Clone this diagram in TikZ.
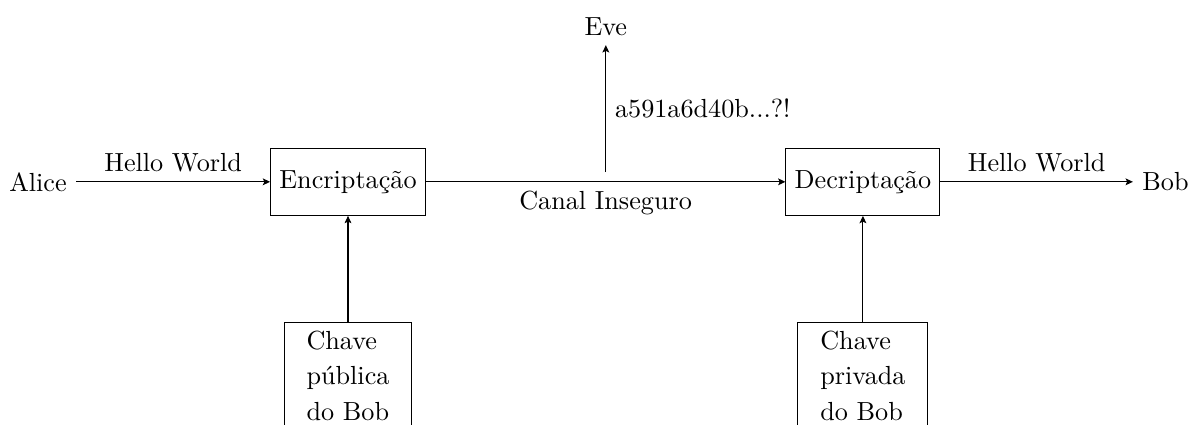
\documentclass[tikz,border=0pt]{standalone}
\usepackage{tikz}
\usetikzlibrary{arrows.meta, calc, positioning}
\tikzset{
  blk/.style    ={draw, rectangle, minimum height=9mm, line width=0.4pt},
  keyblk/.style ={draw, rectangle, align=left, anchor=north, inner xsep=3mm, line width=0.4pt},
  who/.style    ={inner sep=1.2mm},
  flow/.style   ={-{Stealth[length=2.8pt, width=2.6pt, inset=0.6pt]}, line width=0.4pt},   % message / key path
  lbl/.style    ={font=\normalsize},
}

\begin{document}
\begin{tikzpicture}
  \useasboundingbox (-4.67,-3.25) rectangle (11.46,2.44);
  \node[who]  (alice) at (-4.16,0) {Alice};
  \node[blk]  (enc)   at (0,0)     {Encripta\c{c}\~ao};
  \node[blk]  (dec)   at (6.91,0)  {Decripta\c{c}\~ao};
  \node[who]  (bob)   at (10.97,0) {Bob};
  \node       (eve)   at (3.46,2.08) {Eve};
  \node[keyblk] (pubkey)  at (0,-1.88)    {Chave\\[1.5pt]p\'ublica\\[1.5pt]do Bob};
  \node[keyblk] (privkey) at (6.91,-1.88) {Chave\\[1.5pt]privada\\[1.5pt]do Bob};
  \coordinate (tap) at (3.46,0.13);
  \draw[flow] (alice) -- node[lbl, above] {Hello World} (enc);
  \draw[flow] (enc) -- node[lbl, below] {Canal Inseguro} (dec);
  \draw[flow] (dec) -- node[lbl, above] {Hello World} (bob);
  \draw[flow] (tap) -- node[lbl, right] {a591a6d40b...?!} (eve);
  \draw[flow] (pubkey) -- (enc);
  \draw[flow] (privkey) -- (dec);
\end{tikzpicture}
\end{document}
